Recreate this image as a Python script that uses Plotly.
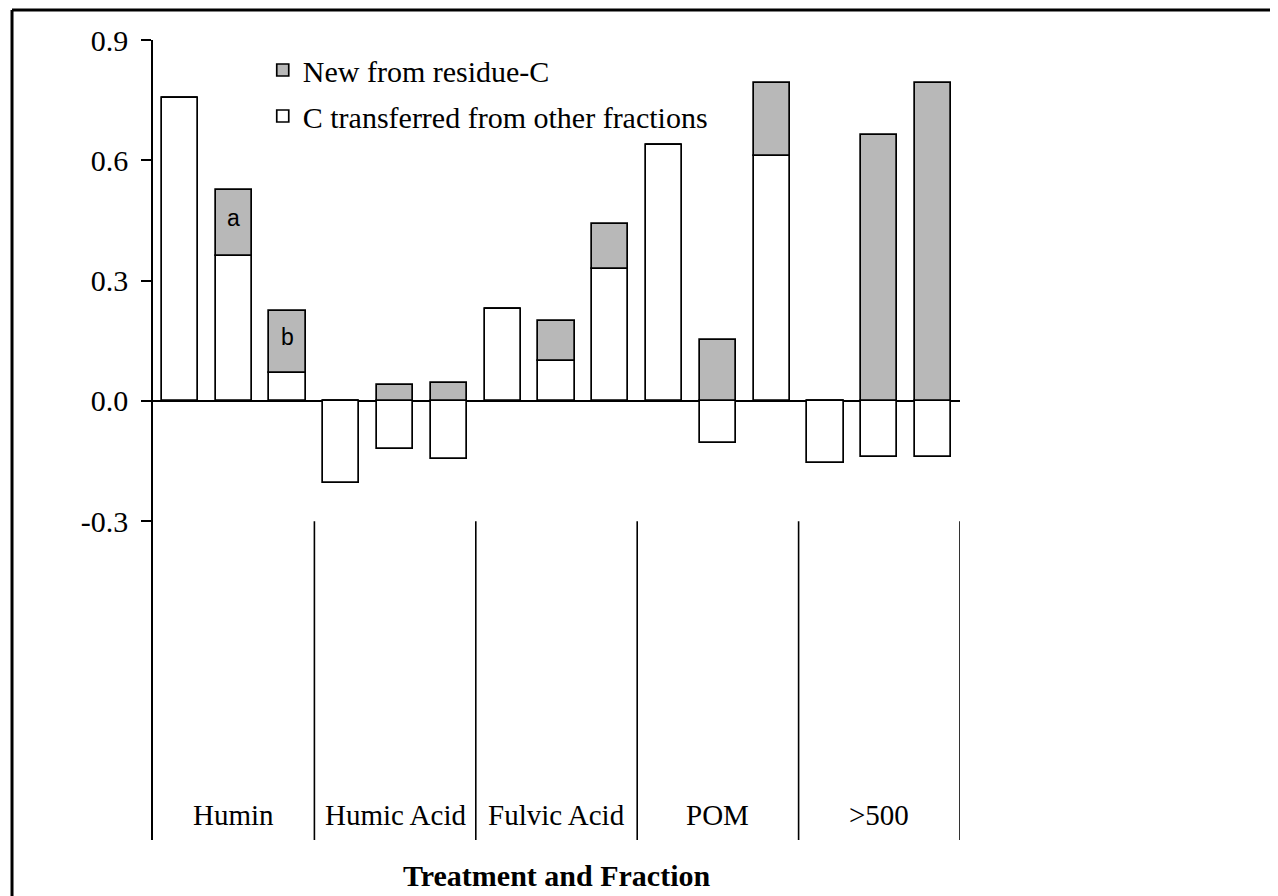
import plotly.graph_objects as go

groups = ["Humin", "Humic Acid", "Fulvic Acid", "POM", ">500"]
bars_per_group = 3
# C transferred from other fractions (white)
transferred = [0.755, 0.362, 0.070,
               -0.205, -0.120, -0.145,
               0.230, 0.100, 0.330,
               0.637, -0.105, 0.611,
               -0.155, -0.139, -0.139]
# New from residue-C (grey increment)
new_residue = [0.0, 0.165, 0.154,
               0.0, 0.040, 0.045,
               0.0, 0.100, 0.112,
               0.0, 0.153, 0.181,
               0.0, 0.662, 0.792]
bar_labels = {1: "a", 2: "b"}
tick_vals = [-0.3, 0.0, 0.3, 0.6, 0.9]
tick_text = ["-0.3", "0.0", "0.3", "0.6", "0.9"]

SERIF = "Liberation Serif, Times New Roman, serif"
x = list(range(len(transferred)))

fig = go.Figure()
fig.add_trace(go.Bar(
    x=x, y=transferred, name="C transferred from other fractions",
    marker=dict(color="white", line=dict(color="black", width=1.7)),
    width=0.67, legendgroup="t", legendrank=2))
fig.add_trace(go.Bar(
    x=x, y=new_residue, name="New from residue-C",
    marker=dict(color="#b8b8b8", line=dict(color="black", width=1.7)),
    width=0.67, legendgroup="n", legendrank=1))

ymin = -1.0945
shapes = []
n = len(transferred)
for g in range(1, len(groups) + 1):
    xb = g * bars_per_group - 0.5
    shapes.append(dict(type="line", xref="x", yref="y", x0=xb, x1=xb,
                       y0=-0.3, y1=ymin, line=dict(color="black", width=1.6)))
# outer frame (left and top edges visible)
shapes.append(dict(type="line", xref="paper", yref="paper",
                   x0=-0.1747, x1=-0.1747, y0=1.0375, y1=-0.1,
                   line=dict(color="black", width=3)))
shapes.append(dict(type="line", xref="paper", yref="paper",
                   x0=-0.1747, x1=1.45, y0=1.0375, y1=1.0375,
                   line=dict(color="black", width=3)))

annotations = []
for gi, gname in enumerate(groups):
    annotations.append(dict(x=gi * bars_per_group + 1, y=-1.033, xref="x", yref="y",
                            text=gname, showarrow=False,
                            font=dict(family=SERIF, size=29, color="black")))
for i, lab in bar_labels.items():
    annotations.append(dict(x=i, y=transferred[i] + new_residue[i] / 2 + 0.012,
                            xref="x", yref="y", text=lab, showarrow=False,
                            font=dict(family="Liberation Sans, Arial, sans-serif",
                                      size=23, color="black")))
annotations.append(dict(x=0.5, y=-0.044, xref="paper", yref="paper",
                        text="<b>Treatment and Fraction</b>", showarrow=False,
                        yanchor="middle",
                        font=dict(family=SERIF, size=30, color="black")))

fig.update_layout(
    width=1270, height=888,
    margin=dict(l=145, r=318, t=32, b=56),
    paper_bgcolor="white", plot_bgcolor="white",
    barmode="relative", bargap=0,
    showlegend=True,
    legend=dict(x=0.136, y=0.995, xanchor="left", yanchor="top",
                traceorder="grouped", tracegroupgap=4,
                bgcolor="rgba(0,0,0,0)",
                font=dict(family=SERIF, size=30, color="black")),
    shapes=shapes, annotations=annotations,
    font=dict(family=SERIF, color="black"),
)
fig.update_xaxes(range=[-0.5, n - 0.5], showticklabels=False, showline=False,
                 showgrid=False, zeroline=False, ticks="")
fig.update_yaxes(range=[ymin, 0.9], tickvals=tick_vals, ticktext=tick_text,
                 ticks="outside", ticklen=10, tickwidth=1.6, tickcolor="black",
                 showline=True, linecolor="black", linewidth=1.6,
                 showgrid=False, zeroline=True, zerolinecolor="black",
                 zerolinewidth=2, ticklabelstandoff=7,
                 tickfont=dict(family=SERIF, size=30, color="black"))

fig.write_html("out.html")
